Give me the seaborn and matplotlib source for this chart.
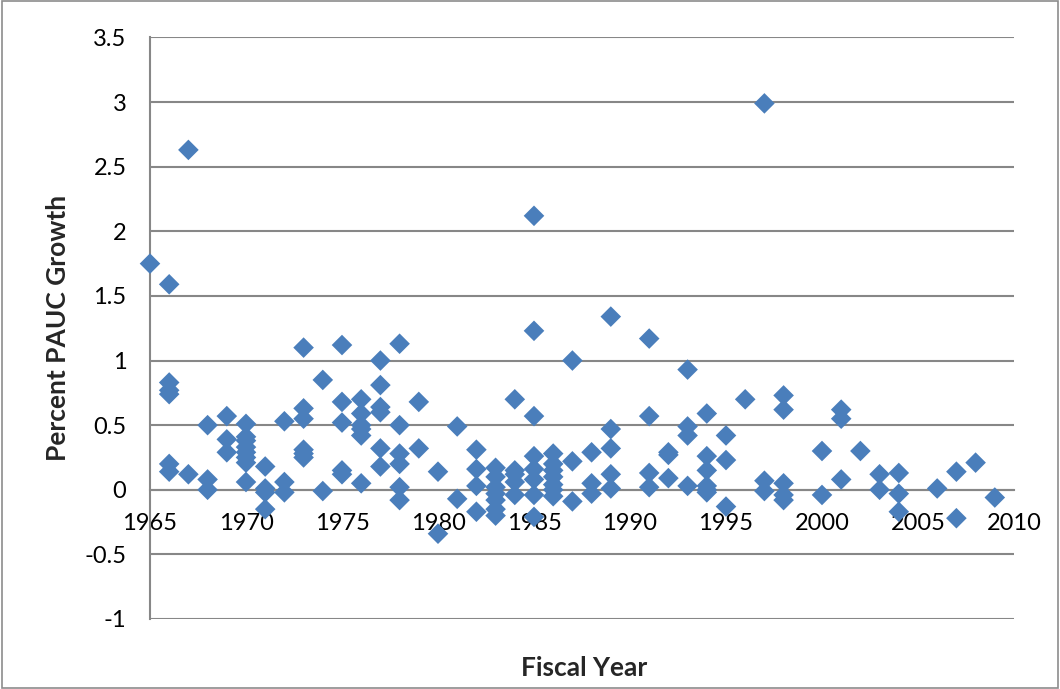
import numpy as np
import pandas as pd
import matplotlib.pyplot as plt
import seaborn as sns
from matplotlib.ticker import FuncFormatter
from matplotlib.patches import Rectangle

# values, grouped by fiscal year
years_vals = [
    (1965, [1.75]),
    (1966, [1.59, 0.83, 0.77, 0.74, 0.20, 0.14]),
    (1967, [2.63, 0.12]),
    (1968, [0.50, 0.08, 0.00]),
    (1969, [0.57, 0.39, 0.29]),
    (1970, [0.51, 0.41, 0.38, 0.33, 0.29, 0.25, 0.21, 0.06]),
    (1971, [0.18, 0.01, -0.02, -0.15]),
    (1972, [0.53, 0.06, -0.02]),
    (1973, [1.10, 0.63, 0.55, 0.31, 0.28, 0.25]),
    (1974, [0.85, -0.01]),
    (1975, [1.12, 0.68, 0.52, 0.15, 0.12]),
    (1976, [0.70, 0.59, 0.50, 0.47, 0.42, 0.05]),
    (1977, [1.00, 0.81, 0.64, 0.60, 0.32, 0.18]),
    (1978, [1.13, 0.50, 0.28, 0.20, 0.02, -0.08]),
    (1979, [0.68, 0.32]),
    (1980, [0.14, -0.34]),
    (1981, [0.49, -0.07]),
    (1982, [0.31, 0.16, 0.03, -0.17]),
    (1983, [0.17, 0.10, 0.02, -0.03, -0.08, -0.15, -0.20]),
    (1984, [0.70, 0.15, 0.12, 0.06, -0.04]),
    (1985, [2.12, 1.23, 0.57, 0.26, 0.16, 0.08, -0.04, -0.21]),
    (1986, [0.28, 0.20, 0.15, 0.10, 0.04, 0.00, -0.05]),
    (1987, [1.00, 0.22, -0.09]),
    (1988, [0.29, 0.05, -0.03]),
    (1989, [1.34, 0.47, 0.32, 0.12, 0.01]),
    (1991, [1.17, 0.57, 0.13, 0.02]),
    (1992, [0.29, 0.27, 0.09]),
    (1993, [0.93, 0.49, 0.42, 0.03]),
    (1994, [0.59, 0.26, 0.15, 0.03, 0.00, -0.02]),
    (1995, [0.42, 0.23, -0.13]),
    (1996, [0.70]),
    (1997, [2.99, 0.07, -0.01]),
    (1998, [0.73, 0.62, 0.05, -0.04, -0.08]),
    (2000, [0.30, -0.04]),
    (2001, [0.62, 0.55, 0.08]),
    (2002, [0.30]),
    (2003, [0.12, 0.00]),
    (2004, [0.13, -0.03, -0.17]),
    (2006, [0.01]),
    (2007, [0.14, -0.22]),
    (2008, [0.21]),
    (2009, [-0.06]),
]

fiscal_year = [y for y, vals in years_vals for v in vals]
pauc_growth = [v for y, vals in years_vals for v in vals]
x_ticks = [1965, 1970, 1975, 1980, 1985, 1990, 1995, 2000, 2005, 2010]
y_ticks = [-1, -0.5, 0, 0.5, 1, 1.5, 2, 2.5, 3, 3.5]

df = pd.DataFrame({'Fiscal Year': fiscal_year, 'Percent PAUC Growth': pauc_growth})

sns.set_style('white')
plt.rcParams['font.family'] = ['Lato', 'DejaVu Sans']

fig, ax = plt.subplots(figsize=(10.6, 6.89), dpi=100)
fig.subplots_adjust(left=0.1415, right=0.9566, top=0.9456, bottom=0.1016)

grid_col = '#878787'
for yv in y_ticks:
    ax.axhline(yv, color=grid_col, lw=1.5, zorder=0)

sns.scatterplot(data=df, x='Fiscal Year', y='Percent PAUC Growth', marker='D',
                s=110, color='#4A7EBB', edgecolor='none', linewidth=0, ax=ax,
                zorder=3, clip_on=False)

ax.set_xlim(1965, 2010)
ax.set_ylim(-1, 3.5)
ax.set_xticks(x_ticks)
ax.set_yticks(y_ticks)
ax.yaxis.set_major_formatter(FuncFormatter(lambda v, p: '%g' % v))

for s in ['top', 'right']:
    ax.spines[s].set_visible(False)
ax.spines['left'].set_color(grid_col)
ax.spines['left'].set_linewidth(1.5)
ax.spines['bottom'].set_position(('data', 0))
ax.spines['bottom'].set_color(grid_col)
ax.spines['bottom'].set_linewidth(1.5)

ax.tick_params(axis='both', direction='out', length=6, width=1.5, color=grid_col,
               labelsize=17, labelcolor='black')
ax.tick_params(axis='x', pad=11)
ax.tick_params(axis='y', pad=11)

ax.set_xlabel('')
ax.set_ylabel('Percent PAUC Growth', fontsize=19, fontweight='bold')
ax.yaxis.set_label_coords(-0.093, 0.5)
fig.text(0.551, 0.030, 'Fiscal Year', fontsize=19, fontweight='bold',
         ha='center', va='center')

fig.patches.append(Rectangle((0.002, 0.002), 0.996, 0.996, transform=fig.transFigure,
                             fill=False, edgecolor='#8c8c8c', lw=1.2))

fig.savefig('out.png', dpi=100)
